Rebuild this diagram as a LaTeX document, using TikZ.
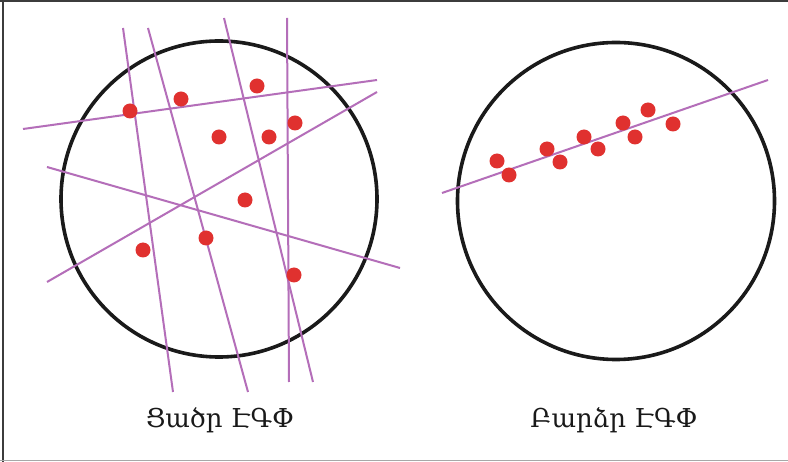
\documentclass[tikz,border=0pt]{standalone}
\usepackage{fontspec}
\newfontfamily\armfont{DejaVu Serif}
\definecolor{ringcol}{HTML}{1A1A1A}
\definecolor{linecol}{HTML}{B46EB9}
\definecolor{dotcol}{HTML}{E0312F}
\definecolor{framedark}{HTML}{3C3C3C}
\definecolor{framelight}{HTML}{A8A8A8}
\begin{document}
\begin{tikzpicture}[x=1pt,y=-1pt,
  ring/.style={draw=ringcol,line width=3.6pt},
  fitline/.style={draw=linecol,line width=2pt},
  dot/.style={fill=dotcol},
  label/.style={font=\armfont\fontsize{26}{30}\selectfont,text=black!90,inner sep=0pt}]
\useasboundingbox (0,0) rectangle (788,462);
\fill[white] (0,0) rectangle (788,462);
% frame
\draw[framedark,line width=2pt] (0,1) -- (788,1);
\draw[framedark,line width=2pt] (2.5,0) -- (2.5,462);
\draw[framelight,line width=1.5pt] (0,460.5) -- (788,460.5);
% left circle
\draw[ring] (219,199) circle[radius=158];
\draw[fitline] (123,28) -- (173,392);
\draw[fitline] (148,28) -- (248,392);
\draw[fitline] (224,18) -- (313,382);
\draw[fitline] (287,18) -- (289,382);
\draw[fitline] (23,129) -- (377,80);
\draw[fitline] (377,92) -- (47,282);
\draw[fitline] (47,167) -- (400,268);
\foreach \p in {(130,111),(181,99),(257,86),(219,137),(269,137),(295,123),(245,200),(206,238),(143,250),(294,275)}
  \fill[dot] \p circle[radius=7.5];
% right circle
\draw[ring] (616,201) circle[radius=158.5];
\draw[fitline] (442,193) -- (768,80);
\foreach \p in {(497,161),(509,175),(547,149),(560,162),(584,137),(598,149),(623,123),(635,137),(648,110),(673,124)}
  \fill[dot] \p circle[radius=7.5];
% labels
\node[label] (lowlbl) at (220,420) {Ցածր ԷԳՓ};
\node[label] (highlbl) at (614,420) {Բարձր ԷԳՓ};
\end{tikzpicture}
\end{document}
